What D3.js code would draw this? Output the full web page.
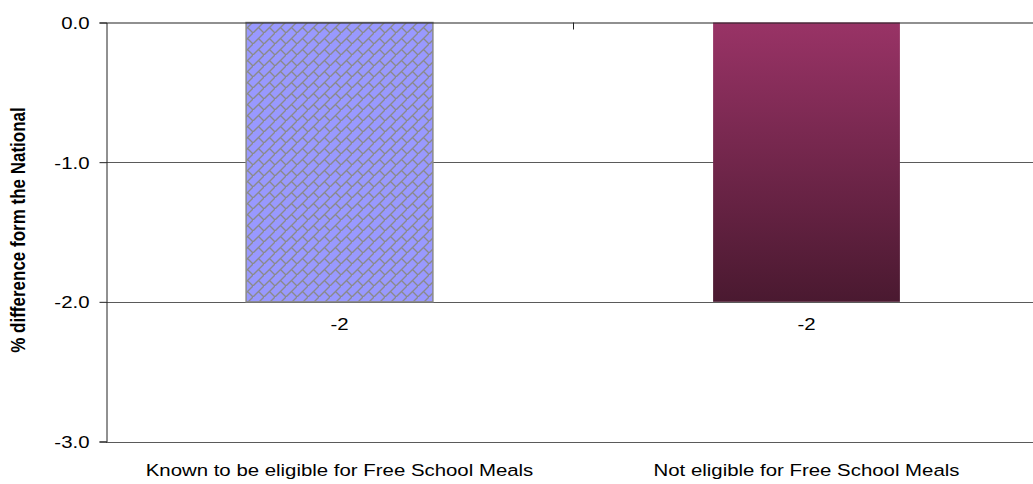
<!DOCTYPE html>
<html>
<head>
<meta charset="utf-8">
<script src="https://cdn.jsdelivr.net/npm/d3@7"></script>
<style>
  html, body { margin: 0; padding: 0; background: #fff; }
  svg { display: block; }
  text { font-family: "Liberation Sans", Arial, sans-serif; }
</style>
</head>
<body>
<div id="chart"></div>
<script>
// Difference from the national figure, by Free School Meals eligibility
const categories = ["Known to be eligible for Free School Meals", "Not eligible for Free School Meals"];
const values = [-2, -2];
const valueLabels = ["-2", "-2"];
const yTicks = [0, -1, -2, -3];
const yTickLabels = ["0.0", "-1.0", "-2.0", "-3.0"];
const yTitle = "% difference form the National";

const width = 1033, height = 484;
const margin = { top: 22.5, left: 106, plotRight: 1040, bottom: 441.5 };
const fontSize = 17;
const stretch = "scale(1.2,1)";   // text is drawn slightly wide

const svg = d3.select("#chart").append("svg")
  .attr("width", width)
  .attr("height", height);

const defs = svg.append("defs");

// Diagonal brick fill
const tile = 11;
const brick = defs.append("pattern")
  .attr("id", "diagBrick")
  .attr("patternUnits", "userSpaceOnUse")
  .attr("width", tile)
  .attr("height", tile);
brick.append("rect").attr("width", tile).attr("height", tile).attr("fill", "#9999ff");
brick.append("path")
  .attr("d", `M-1,${tile + 1}L${tile + 1},-1 M${tile / 2},${tile / 2}L${tile + 1},${tile + 1} M-1,-1L0,0`)
  .attr("stroke", "#8a8a8a")
  .attr("stroke-width", 1.4)
  .attr("fill", "none");

// Vertical shading for the second bar
const grad = defs.append("linearGradient")
  .attr("id", "plumShade")
  .attr("x1", 0).attr("y1", 0).attr("x2", 0).attr("y2", 1);
grad.append("stop").attr("offset", "0%").attr("stop-color", "#993366");
grad.append("stop").attr("offset", "100%").attr("stop-color", "#4a1930");

const y = d3.scaleLinear().domain([-3, 0]).range([margin.bottom, margin.top]);
const x = d3.scaleBand()
  .domain(categories)
  .range([margin.left, margin.plotRight])
  .paddingInner(0.6)
  .paddingOuter(0.3);

// Gridlines
svg.append("g")
  .selectAll("line")
  .data(yTicks.filter(t => t !== 0))
  .join("line")
  .attr("x1", margin.left).attr("x2", margin.plotRight)
  .attr("y1", d => Math.round(y(d)) + 0.5).attr("y2", d => Math.round(y(d)) + 0.5)
  .attr("stroke", "#5a5a5a")
  .attr("stroke-width", 1);

// Bars
const fills = ["url(#diagBrick)", "url(#plumShade)"];
const strokes = ["#8a8a8a", "none"];
svg.append("g")
  .selectAll("rect")
  .data(categories)
  .join("rect")
  .attr("x", d => x(d))
  .attr("y", (d, i) => y(Math.max(0, values[i])))
  .attr("width", x.bandwidth())
  .attr("height", (d, i) => Math.abs(y(values[i]) - y(0)))
  .attr("fill", (d, i) => fills[i])
  .attr("stroke", (d, i) => strokes[i])
  .attr("stroke-width", 1.5);

// Y axis
const yAxis = d3.axisLeft(y)
  .tickValues(yTicks)
  .tickFormat((d, i) => yTickLabels[i])
  .tickSize(7);
const gy = svg.append("g")
  .attr("transform", `translate(${margin.left + 0.5},0)`)
  .call(yAxis);
gy.select(".domain").attr("stroke", "#222");
gy.selectAll(".tick line").attr("stroke", "#222");
gy.selectAll(".tick text")
  .attr("x", null)
  .attr("dy", "0.35em")
  .attr("transform", `translate(-17,0) ${stretch}`)
  .attr("font-size", fontSize)
  .attr("fill", "#000")
  .style("font-family", "'Liberation Sans', Arial, sans-serif");

// Category axis along the zero line
const xAxis = d3.axisBottom(x).tickSize(0).tickFormat("");
const gx = svg.append("g")
  .attr("transform", `translate(0,${y(0)})`)
  .call(xAxis);
gx.select(".domain").attr("stroke", "#222").attr("stroke-width", 1.2);
gx.selectAll(".tick").remove();
// Tick marks between categories
const dividers = [margin.left + x.step()];
gx.selectAll(".divider")
  .data(dividers)
  .join("line")
  .attr("class", "divider")
  .attr("x1", d => Math.round(d) + 0.5).attr("x2", d => Math.round(d) + 0.5)
  .attr("y1", 0).attr("y2", 7)
  .attr("stroke", "#222");

// Category labels, below the plot
svg.append("g")
  .selectAll("text")
  .data(categories)
  .join("text")
  .attr("transform", d => `translate(${x(d) + x.bandwidth() / 2},476) ${stretch}`)
  .attr("text-anchor", "middle")
  .attr("font-size", fontSize)
  .attr("fill", "#000")
  .text(d => d);

// Value labels
svg.append("g")
  .selectAll("text")
  .data(categories)
  .join("text")
  .attr("transform", (d, i) => `translate(${x(d) + x.bandwidth() / 2},${y(values[i]) + 28}) ${stretch}`)
  .attr("text-anchor", "middle")
  .attr("font-size", fontSize)
  .attr("fill", "#000")
  .text((d, i) => valueLabels[i]);

// Y axis title
svg.append("text")
  .attr("transform", `translate(25,${(margin.top + margin.bottom) / 2 - 2}) ${stretch} rotate(-90)`)
  .attr("text-anchor", "middle")
  .attr("font-size", fontSize)
  .attr("font-weight", "bold")
  .attr("fill", "#000")
  .text(yTitle);
</script>
</body>
</html>
